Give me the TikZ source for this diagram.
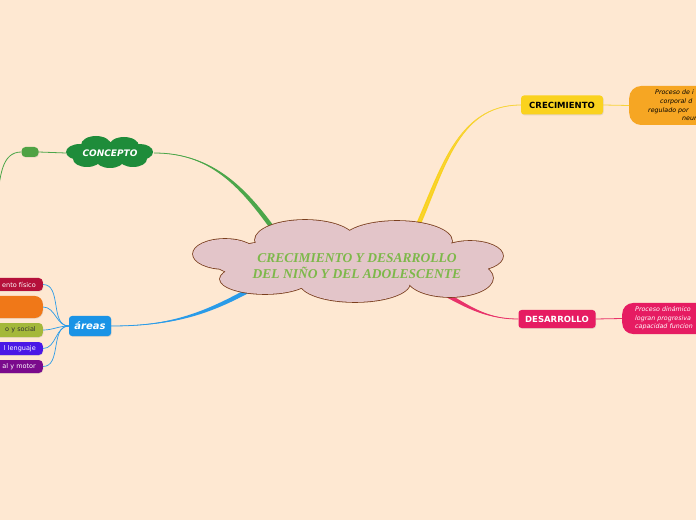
\documentclass[tikz,border=0pt]{standalone}
\usepackage{fontspec}
\setsansfont{DejaVu Sans}
\newfontfamily\titlefont{Liberation Serif}
\usetikzlibrary{calc,shadows}

\definecolor{bgpeach}{HTML}{FEE8D2}
\definecolor{cloudpink}{HTML}{E3C5C9}
\definecolor{cloudbrown}{HTML}{7A3E1E}
\definecolor{titlegreen}{HTML}{7DB84A}
\definecolor{conceptgreen}{HTML}{1E8C3A}
\definecolor{smallgreen}{HTML}{4FA244}
\definecolor{linegreen}{HTML}{4CA64A}
\definecolor{crecyellow}{HTML}{FAD21E}
\definecolor{lineyellow}{HTML}{F7D43A}
\definecolor{crecorange}{HTML}{F6A623}
\definecolor{desapink}{HTML}{E61C62}
\definecolor{linepink}{HTML}{E8336A}
\definecolor{areasblue}{HTML}{1A93E6}
\definecolor{lineblue}{HTML}{2A9BE8}
\definecolor{leafred}{HTML}{B5103A}
\definecolor{leaforange}{HTML}{F07818}
\definecolor{leafolive}{HTML}{A4B83A}
\definecolor{leafviolet}{HTML}{4A18E6}
\definecolor{leafpurple}{HTML}{7A0A8C}

\begin{document}
\begin{tikzpicture}[x=1pt,y=1pt]
\tikzset{
  topicbox/.style={rounded corners=3pt,inner sep=0pt,font=\sffamily\bfseries\fontsize{8.5}{10}\selectfont,
    drop shadow={opacity=0.2,shadow xshift=0.6pt,shadow yshift=-0.8pt}},
  infobox/.style={rounded corners=12pt,anchor=west,text width=120pt,align=left,
    font=\sffamily\itshape\fontsize{6.3}{8.6}\selectfont},
  leaf/.style={rounded corners=4pt,minimum height=13pt,inner ysep=0pt,inner xsep=7pt,
    text width=70pt,align=right,anchor=east,font=\sffamily\fontsize{6.5}{7.5}\selectfont,
    drop shadow={opacity=0.2,shadow xshift=0.5pt,shadow yshift=-0.7pt}},
  leaflink/.style={draw=lineblue,line width=0.7pt},
  thinlink/.style={line width=0.8pt},
  cloudedge/.style={draw=cloudbrown,line width=1.6pt},
  cloudfill/.style={fill=cloudpink}
}
\useasboundingbox (0,0) rectangle (696,520);
\clip (0,0) rectangle (696,520);
\fill[bgpeach] (0,0) rectangle (696,520);

% green cloud of CONCEPTO
\fill[conceptgreen] (110,368) ellipse[x radius=35,y radius=10]
  (96,375) ellipse[x radius=15,y radius=9] (124,374) ellipse[x radius=15,y radius=9]
  (80,368) ellipse[x radius=14,y radius=8] (140,368) ellipse[x radius=13,y radius=8]
  (87,361) ellipse[x radius=14,y radius=8] (110,360) ellipse[x radius=14,y radius=8]
  (133,361) ellipse[x radius=14,y radius=8];
\node[minimum width=88pt,minimum height=32pt,inner sep=0pt,text=white,
  font=\sffamily\bfseries\itshape\fontsize{9}{11}\selectfont] (concept) at (110,367) {CONCEPTO};
\node[fill=smallgreen,rounded corners=4pt,minimum width=17pt,minimum height=10pt,inner sep=0pt,
  drop shadow={opacity=0.2,shadow xshift=0.5pt,shadow yshift=-0.7pt}] (small) at (30,368) {};
\coordinate (gout) at (-3,322);

\node[topicbox,fill=crecyellow,minimum width=82pt,minimum height=19pt] (crec) at (562,415) {CRECIMIENTO};
\node[infobox,fill=crecorange,minimum height=39pt,inner xsep=19pt] (crecinfo) at (629,414.5)
  {\hspace*{7pt}Proceso de i\\\hspace*{12pt}corporal d\\regulado por\\\hspace*{34pt}neur};

\node[topicbox,fill=desapink,text=white,minimum width=77pt,minimum height=18pt] (desa) at (557,201) {DESARROLLO};
\node[infobox,fill=desapink,text=white,minimum height=31pt,inner xsep=13pt,rounded corners=11pt] (desainfo) at (622,201.5)
  {Proceso dinámico\\logran progresiva\\capacidad funcion};

\node[topicbox,fill=areasblue,text=white,minimum width=42pt,minimum height=20pt,
  font=\sffamily\bfseries\itshape\fontsize{10}{12}\selectfont] (areas) at (90,194) {áreas};

\node[leaf,fill=leafred,text=white] (fisico) at (43,235.5) {ento físico};
\node[leaf,fill=leaforange,minimum height=22pt,rounded corners=8pt] (naranja) at (43,213) {};
\node[leaf,fill=leafolive,text=black!80,minimum height=14pt] (social) at (43,190) {o y social};
\node[leaf,fill=leafviolet,text=white] (lenguaje) at (43,171.5) {l lenguaje};
\node[leaf,fill=leafpurple,text=white] (motor) at (43,153.5) {al y motor};

% thin links
\draw[thinlink,draw=linegreen] (concept.west) -- (small.east);
\draw[thinlink,draw=linegreen] (small.west) to[out=180,in=80] (gout);
\draw[thinlink,draw=lineyellow] (crec.east) -- (crecinfo.west);
\draw[thinlink,draw=linepink] (desa.east) -- (desainfo.west);
\foreach \leafname in {fisico,naranja,social,lenguaje,motor}
  \draw[leaflink] (areas.west) to[out=180,in=0] (\leafname.east);

% main branches, thicker towards the centre
\coordinate (c_green) at (281,280);
\coordinate (c_yellow) at (414,286);
\coordinate (c_pink) at (434,232);
\coordinate (c_blue) at (260,236);
\fill[linegreen] (concept.east) to[out=0,in=125] ($(c_green)+(215:2.3)$) -- ($(c_green)+(35:2.3)$) to[out=125,in=0] (concept.east);
\draw[thinlink,draw=linegreen] (concept.east) to[out=0,in=125] (c_green);
\fill[crecyellow] (crec.west) to[out=180,in=65] ($(c_yellow)+(155:2.3)$) -- ($(c_yellow)+(-25:2.3)$) to[out=65,in=180] (crec.west);
\draw[thinlink,draw=lineyellow] (crec.west) to[out=180,in=65] (c_yellow);
\fill[linepink] (desa.west) to[out=180,in=-28] ($(c_pink)+(62:2.3)$) -- ($(c_pink)+(-118:2.3)$) to[out=-28,in=180] (desa.west);
\draw[thinlink,draw=linepink] (desa.west) to[out=180,in=-28] (c_pink);
\fill[lineblue] (areas.east) to[out=0,in=-150] ($(c_blue)+(-60:2.3)$) -- ($(c_blue)+(120:2.3)$) to[out=-150,in=0] (areas.east);
\draw[thinlink,draw=lineblue] (areas.east) to[out=0,in=-150] (c_blue);

% central idea: outline first, then the fill over it
\foreach \pass in {cloudedge,cloudfill}
  \path[\pass] (225,266) ellipse[x radius=32,y radius=15]
    (305,280) ellipse[x radius=50,y radius=20] (397,279) ellipse[x radius=55,y radius=20]
    (470,264) ellipse[x radius=33,y radius=15] (450,242) ellipse[x radius=43,y radius=19]
    (355,237) ellipse[x radius=55,y radius=19] (265,241) ellipse[x radius=45,y radius=15]
    (348,259) ellipse[x radius=135,y radius=25];
\node[align=center,text=titlegreen,font=\titlefont\bfseries\itshape\fontsize{13.5}{16}\selectfont] (title) at (357,254)
  {CRECIMIENTO Y DESARROLLO\\DEL NIÑO Y DEL ADOLESCENTE};
\end{tikzpicture}
\end{document}
